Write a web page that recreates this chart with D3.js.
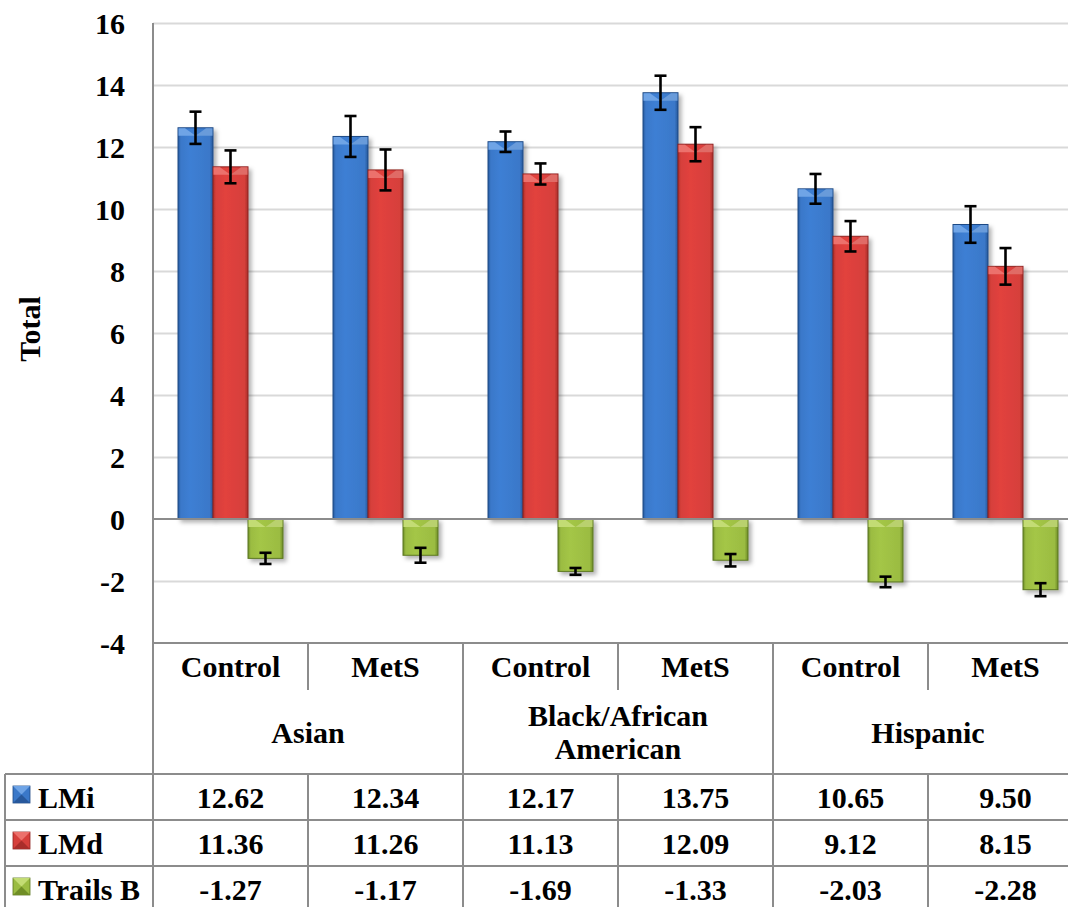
<!DOCTYPE html>
<html><head><meta charset="utf-8">
<script src="https://cdn.jsdelivr.net/npm/d3@7"></script>
</head><body style="margin:0;padding:0;background:#fff;overflow:hidden">
<svg id="chart" width="1068" height="907" style="display:block"></svg>
<script>
// ---- data ----
const categories = ["Control", "MetS", "Control", "MetS", "Control", "MetS"];
const groups = ["Asian", "Black/African American", "Hispanic"];
const seriesNames = ["LMi", "LMd", "Trails B"];
const lmi = [12.62, 12.34, 12.17, 13.75, 10.65, 9.50];
const lmd = [11.36, 11.26, 11.13, 12.09, 9.12, 8.15];
const trailsB = [-1.27, -1.17, -1.69, -1.33, -2.03, -2.28];
const lmiErr = [0.52, 0.66, 0.33, 0.55, 0.48, 0.59];
const lmdErr = [0.53, 0.66, 0.34, 0.55, 0.49, 0.59];
const trailsBErr = [0.18, 0.24, 0.11, 0.20, 0.17, 0.21];
const yTicks = [-4, -2, 0, 2, 4, 6, 8, 10, 12, 14, 16];
const yTitle = "Total";

const seriesValues = [lmi, lmd, trailsB];
const seriesErrors = [lmiErr, lmdErr, trailsBErr];
const palette = [
  {base: "#3a78c9", dark: "#27589c", edge: "#1f4a85", light: "#6fa4e6"},
  {base: "#d63f3b", dark: "#a92d2a", edge: "#8e2422", light: "#ec716c"},
  {base: "#9bbc42", dark: "#6f8d26", edge: "#5b7620", light: "#c3dc74"}
];
const locale = d3.formatLocale({decimal: ".", thousands: ",", grouping: [3], currency: ["", ""], minus: "-"});
const FONT = ["Liberation", "Serif"].join(" ");
const styleText = sel => sel.style("font-family", FONT).style("font-weight", "bold").style("font-size", "30px").attr("fill", "#000");

// ---- layout ----
const svg = d3.select("#chart");
const plotLeft = 153, plotRight = 1083;
const y = d3.scaleLinear().domain([-4, 16]).range([643, 23]);
const x0 = d3.scaleBand().domain(d3.range(categories.length))
  .range([plotLeft, plotRight]).paddingInner(50 / 155).paddingOuter(25 / 155);
const x1 = d3.scaleBand().domain(d3.range(seriesNames.length)).range([0, x0.bandwidth()]);
const step = x0.step();
const colLeft = i => plotLeft + i * step;
const row1Bottom = 690, groupBottom = 774, rowH = 46, legendLeft = 5;
const tableBottom = groupBottom + rowH * seriesNames.length;
const lineColor = "#8c8c8c";

// ---- defs ----
const defs = svg.append("defs");
const sh = defs.append("filter").attr("id", "shadow").attr("x", "-30%").attr("y", "-10%").attr("width", "170%").attr("height", "130%");
sh.append("feDropShadow").attr("dx", 3).attr("dy", 3).attr("stdDeviation", 2.2).attr("flood-color", "#000").attr("flood-opacity", 0.3);
palette.forEach((p, i) => {
  const g = defs.append("linearGradient").attr("id", "grad" + i).attr("x1", "0").attr("x2", "1").attr("y1", "0").attr("y2", "0");
  g.append("stop").attr("offset", "0").attr("stop-color", p.dark);
  g.append("stop").attr("offset", "0.08").attr("stop-color", p.base);
  g.append("stop").attr("offset", "0.35").attr("stop-color", d3.color(p.base).brighter(0.15));
  g.append("stop").attr("offset", "0.9").attr("stop-color", p.base);
  g.append("stop").attr("offset", "1").attr("stop-color", p.dark);
});

// ---- gridlines ----
svg.append("g").attr("transform", `translate(${plotLeft},0)`)
  .call(d3.axisLeft(y).tickValues(yTicks.filter(t => t > -4 && t !== 0)).tickSize(-(plotRight - plotLeft)).tickFormat(""))
  .call(g => g.select(".domain").remove())
  .call(g => g.selectAll("text").remove())
  .call(g => g.selectAll("line").attr("stroke", "#d9d9d9").attr("stroke-width", 2));

// ---- y tick labels ----
svg.append("g").attr("transform", `translate(${plotLeft},0)`)
  .call(d3.axisLeft(y).tickValues(yTicks).tickSize(0).tickPadding(28).tickFormat(locale.format("d")))
  .call(g => g.select(".domain").remove())
  .call(g => g.attr("font-family", null).attr("font-size", null))
  .call(g => g.selectAll("text").call(styleText).attr("dy", "0.35em"));

svg.append("text").attr("transform", "translate(40,329) rotate(-90)")
  .attr("text-anchor", "middle").call(styleText).text(yTitle);

// ---- bars ----
const barData = [];
seriesValues.forEach((vals, s) => vals.forEach((v, i) => barData.push({s, i, v, e: seriesErrors[s][i]})));
const barsG = svg.append("g");
const bw = x1.bandwidth();
barData.forEach(d => {
  const x = x0(d.i) + x1(d.s);
  const top = y(Math.max(d.v, 0)), bot = y(Math.min(d.v, 0));
  const p = palette[d.s];
  const g = barsG.append("g");
  g.append("rect").attr("x", x).attr("y", top).attr("width", bw).attr("height", bot - top)
    .attr("fill", `url(#grad${d.s})`).attr("stroke", p.edge).attr("stroke-width", 1).attr("filter", "url(#shadow)");
  const dd = 8;
  g.append("path").attr("d", `M${x + 0.5},${top + 0.5} L${x + bw * 0.2},${top + 0.5} L${x + bw / 2},${top + dd} L${x + 0.5},${top + dd} Z`)
    .attr("fill", p.light);
  g.append("path").attr("d", `M${x + bw - 0.5},${top + 0.5} L${x + bw * 0.8},${top + 0.5} L${x + bw / 2},${top + dd} L${x + bw - 0.5},${top + dd} Z`)
    .attr("fill", d3.color(p.light).darker(0.15));
});

// ---- zero line ----
svg.append("line").attr("x1", plotLeft).attr("x2", plotRight).attr("y1", y(0)).attr("y2", y(0))
  .attr("stroke", lineColor).attr("stroke-width", 2);

// ---- error bars ----
const errG = svg.append("g").attr("stroke", "#000").attr("stroke-width", 2.6).attr("fill", "none");
barData.forEach(d => {
  const cx = x0(d.i) + x1(d.s) + bw / 2;
  const yt = y(d.v + d.e), yb = y(d.v - d.e);
  errG.append("line").attr("x1", cx).attr("x2", cx).attr("y1", yt).attr("y2", yb);
  errG.append("line").attr("x1", cx - 6).attr("x2", cx + 6).attr("y1", yt).attr("y2", yt);
  errG.append("line").attr("x1", cx - 6).attr("x2", cx + 6).attr("y1", yb).attr("y2", yb);
});

// ---- table lines ----
const tl = svg.append("g").attr("stroke", lineColor).attr("stroke-width", 2);
tl.append("line").attr("x1", plotLeft).attr("x2", plotLeft).attr("y1", y(16)).attr("y2", tableBottom + 10);
tl.append("line").attr("x1", plotLeft).attr("x2", plotRight).attr("y1", y(-4)).attr("y2", y(-4));
d3.range(seriesNames.length + 1).forEach(r => {
  const yy = groupBottom + r * rowH;
  tl.append("line").attr("x1", legendLeft).attr("x2", plotRight).attr("y1", yy).attr("y2", yy);
});
tl.append("line").attr("x1", legendLeft).attr("x2", legendLeft).attr("y1", groupBottom).attr("y2", tableBottom + 10);
categories.forEach((c, i) => {
  const xx = colLeft(i + 1);
  if ((i + 1) % 2 === 0) {
    tl.append("line").attr("x1", xx).attr("x2", xx).attr("y1", y(-4)).attr("y2", tableBottom + 10);
  } else {
    tl.append("line").attr("x1", xx).attr("x2", xx).attr("y1", y(-4)).attr("y2", row1Bottom);
    tl.append("line").attr("x1", xx).attr("x2", xx).attr("y1", groupBottom).attr("y2", tableBottom + 10);
  }
});

// ---- category labels ----
const tx = svg.append("g").attr("text-anchor", "middle");
categories.forEach((c, i) => {
  tx.append("text").attr("x", x0(i) + x0.bandwidth() / 2).attr("y", (y(-4) + row1Bottom) / 2).attr("dy", "0.35em").call(styleText).text(c);
});
groups.forEach((gname, gi) => {
  const cx = colLeft(gi * 2) + step;
  const words = gname.split(" ");
  const lines = words.length > 1 ? [words.slice(0, Math.ceil(words.length / 2)).join(" "), words.slice(Math.ceil(words.length / 2)).join(" ")] : [gname];
  const lh = 33, midY = (row1Bottom + groupBottom) / 2;
  lines.forEach((ln, k) => {
    tx.append("text").attr("x", cx).attr("y", midY + (k - (lines.length - 1) / 2) * lh).attr("dy", "0.35em").call(styleText).text(ln);
  });
});

// ---- data table rows ----
const fmt = locale.format(".2f");
seriesNames.forEach((name, s) => {
  const rowTop = groupBottom + s * rowH, rowMid = rowTop + rowH / 2;
  const p = palette[s];
  const mx = 13, my = rowTop + 12, ms = 17;
  svg.append("rect").attr("x", mx).attr("y", my).attr("width", ms).attr("height", ms).attr("fill", p.base).attr("stroke", p.edge).attr("stroke-width", 0.8);
  svg.append("path").attr("d", `M${mx},${my} L${mx + ms},${my} L${mx + ms / 2},${my + ms / 2} Z`).attr("fill", p.light);
  svg.append("path").attr("d", `M${mx},${my + ms} L${mx + ms},${my + ms} L${mx + ms / 2},${my + ms / 2} Z`).attr("fill", p.dark);
  svg.append("text").attr("x", 38).attr("y", rowMid).attr("dy", "0.35em").call(styleText).text(name);
  seriesValues[s].forEach((v, i) => {
    tx.append("text").attr("x", x0(i) + x0.bandwidth() / 2).attr("y", rowMid).attr("dy", "0.35em").call(styleText).text(fmt(v));
  });
});
</script>
</body></html>
